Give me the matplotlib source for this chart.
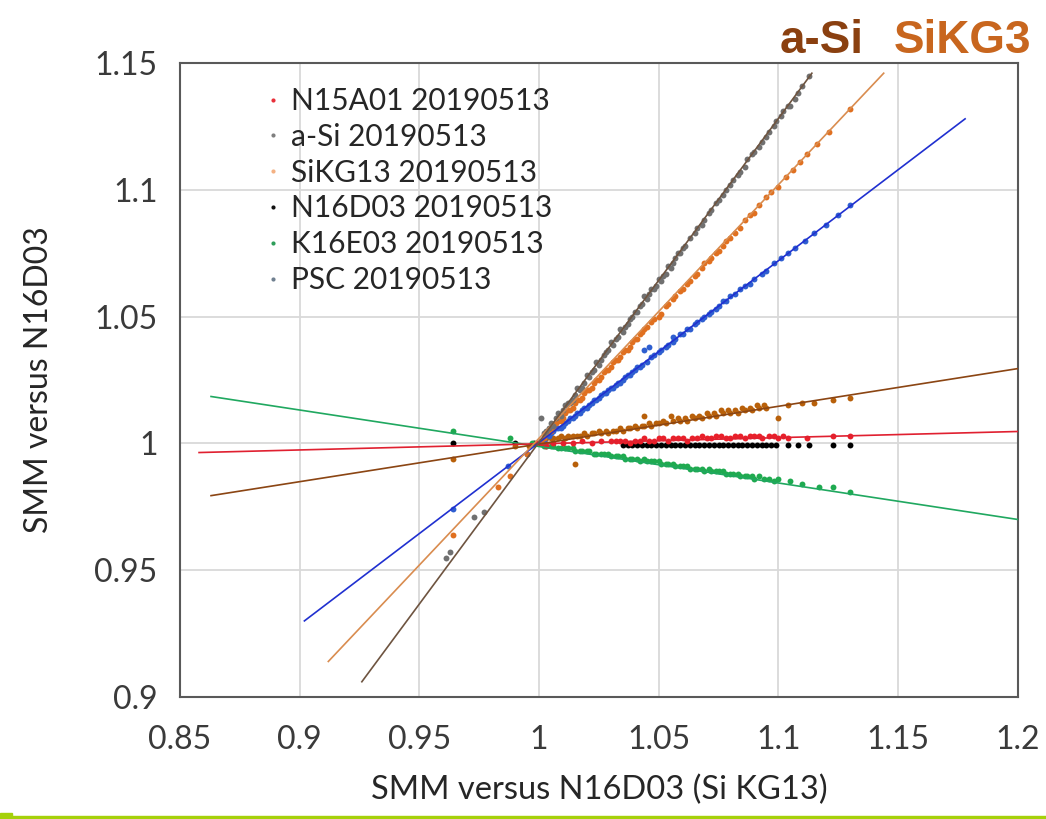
"""SMM ratio comparison versus N16D03, 2019-05-13 measurements."""

import matplotlib
matplotlib.use("Agg")
import matplotlib.pyplot as plt
from matplotlib.lines import Line2D
from matplotlib.patches import Rectangle

# --- data ----------------------------------------------------------------
gray_x = [0.961, 0.963, 0.973, 0.977, 1.001, 1.002, 1.004, 1.006, 1.008, 1.010,
          1.012, 1.014, 1.016, 1.018, 1.020, 1.022, 1.024, 1.026, 1.028, 1.030,
          1.032, 1.034, 1.036, 1.038, 1.040, 1.042, 1.044, 1.046, 1.048, 1.050,
          1.052, 1.054, 1.056, 1.058, 1.060, 1.063, 1.066, 1.069, 1.072, 1.075,
          1.078, 1.081, 1.084, 1.087, 1.090, 1.093, 1.096, 1.099, 1.102, 1.105,
          1.108, 1.113,
          1.003, 1.005, 1.007, 1.009, 1.011, 1.013, 1.015, 1.017, 1.019, 1.021,
          1.023, 1.025, 1.027, 1.029, 1.031, 1.033, 1.035, 1.037, 1.039, 1.041,
          1.043, 1.045, 1.047, 1.049, 1.051, 1.053, 1.055, 1.057, 1.059, 1.061,
          1.065, 1.068, 1.071, 1.074, 1.077, 1.080, 1.083, 1.086, 1.089, 1.092,
          1.095, 1.098, 1.101, 1.104, 1.107, 1.110]
gray_y = [0.955, 0.957, 0.971, 0.973, 1.010, 1.004, 1.006, 1.007, 1.012, 1.013,
          1.016, 1.017, 1.022, 1.022, 1.027, 1.028, 1.032, 1.033, 1.036, 1.040,
          1.041, 1.045, 1.046, 1.049, 1.052, 1.054, 1.058, 1.059, 1.061, 1.065,
          1.066, 1.070, 1.071, 1.075, 1.077, 1.081, 1.085, 1.088, 1.092, 1.096,
          1.100, 1.104, 1.107, 1.112, 1.115, 1.119, 1.123, 1.127, 1.131, 1.133,
          1.138, 1.145,
          1.005, 1.008, 1.010, 1.011, 1.015, 1.016, 1.019, 1.021, 1.024, 1.026,
          1.029, 1.031, 1.035, 1.037, 1.039, 1.042, 1.044, 1.047, 1.050, 1.052,
          1.055, 1.057, 1.061, 1.062, 1.064, 1.067, 1.069, 1.073, 1.075, 1.078,
          1.083, 1.086, 1.091, 1.095, 1.098, 1.102, 1.106, 1.109, 1.114, 1.117,
          1.121, 1.125, 1.129, 1.133, 1.136, 1.141]

orange_x = [0.964, 0.983, 0.988, 0.995, 1.001, 1.003, 1.005, 1.007, 1.009, 1.011,
            1.013, 1.015, 1.017, 1.019, 1.021, 1.023, 1.025, 1.027, 1.029, 1.031,
            1.033, 1.035, 1.037, 1.039, 1.041, 1.043, 1.045, 1.048, 1.051, 1.054,
            1.057, 1.060, 1.063, 1.066, 1.069, 1.072, 1.075, 1.078, 1.082, 1.086,
            1.090, 1.095, 1.100, 1.106, 1.112, 1.121, 1.130,
            1.002, 1.004, 1.006, 1.008, 1.010, 1.012, 1.014, 1.016, 1.018, 1.020,
            1.022, 1.024, 1.026, 1.028, 1.030, 1.032, 1.034, 1.036, 1.038, 1.040,
            1.042, 1.044, 1.047, 1.050, 1.053, 1.056, 1.059, 1.062, 1.065, 1.068,
            1.071, 1.074, 1.077, 1.080, 1.084, 1.088, 1.092, 1.097, 1.103, 1.109,
            1.116]
orange_y = [0.964, 0.983, 0.987, 0.996, 1.001, 1.004, 1.005, 1.008, 1.009, 1.012,
            1.013, 1.016, 1.017, 1.020, 1.021, 1.024, 1.025, 1.028, 1.029, 1.032,
            1.033, 1.036, 1.037, 1.040, 1.041, 1.044, 1.046, 1.049, 1.051, 1.055,
            1.058, 1.061, 1.064, 1.067, 1.071, 1.073, 1.076, 1.080, 1.083, 1.088,
            1.091, 1.097, 1.101, 1.108, 1.114, 1.123, 1.132,
            1.002, 1.005, 1.006, 1.009, 1.010, 1.013, 1.014, 1.017, 1.018, 1.021,
            1.022, 1.025, 1.026, 1.029, 1.030, 1.033, 1.034, 1.037, 1.038, 1.041,
            1.043, 1.045, 1.048, 1.050, 1.054, 1.057, 1.060, 1.063, 1.066, 1.069,
            1.072, 1.075, 1.078, 1.081, 1.085, 1.090, 1.094, 1.099, 1.105, 1.111,
            1.118]

blue_x = [0.964, 0.987, 0.995, 1.001, 1.003, 1.005, 1.007, 1.009, 1.011, 1.013,
          1.015, 1.017, 1.019, 1.021, 1.023, 1.025, 1.027, 1.029, 1.031, 1.033,
          1.035, 1.037, 1.039, 1.041, 1.043, 1.044, 1.045, 1.046, 1.047, 1.050,
          1.053, 1.056, 1.056, 1.059, 1.062, 1.065, 1.068, 1.071, 1.074, 1.077,
          1.080, 1.084, 1.088, 1.093, 1.098, 1.104, 1.111, 1.120, 1.130,
          1.002, 1.004, 1.006, 1.008, 1.010, 1.012, 1.014, 1.016, 1.018, 1.020,
          1.022, 1.024, 1.026, 1.028, 1.030, 1.032, 1.034, 1.036, 1.038, 1.040,
          1.042, 1.048, 1.051, 1.054, 1.057, 1.060, 1.063, 1.066, 1.069, 1.072,
          1.075, 1.078, 1.082, 1.086, 1.090, 1.095, 1.101, 1.107, 1.115, 1.125]
blue_y = [0.974, 0.991, 0.996, 1.001, 1.003, 1.004, 1.006, 1.006, 1.008, 1.010,
          1.011, 1.012, 1.014, 1.015, 1.017, 1.018, 1.020, 1.021, 1.022, 1.024,
          1.025, 1.027, 1.028, 1.030, 1.031, 1.037, 1.032, 1.038, 1.034, 1.036,
          1.038, 1.040, 1.042, 1.043, 1.045, 1.047, 1.049, 1.051, 1.053, 1.056,
          1.058, 1.061, 1.063, 1.067, 1.071, 1.075, 1.080, 1.086, 1.094,
          1.001, 1.003, 1.005, 1.006, 1.007, 1.009, 1.010, 1.012, 1.013, 1.014,
          1.016, 1.017, 1.019, 1.020, 1.022, 1.023, 1.024, 1.026, 1.027, 1.029,
          1.030, 1.035, 1.037, 1.039, 1.041, 1.043, 1.045, 1.048, 1.050, 1.052,
          1.054, 1.056, 1.059, 1.062, 1.065, 1.068, 1.073, 1.077, 1.083, 1.090]

brown_x = [0.964, 0.990, 0.996, 1.002, 1.005, 1.008, 1.011, 1.014, 1.015, 1.017,
           1.020, 1.023, 1.026, 1.029, 1.032, 1.035, 1.038, 1.041, 1.044, 1.044,
           1.047, 1.050, 1.053, 1.055, 1.056, 1.059, 1.062, 1.065, 1.068, 1.071,
           1.074, 1.077, 1.080, 1.083, 1.086, 1.089, 1.092, 1.095, 1.100, 1.104,
           1.110, 1.115, 1.123, 1.130,
           1.003, 1.006, 1.009, 1.012, 1.016, 1.019, 1.022, 1.025, 1.028, 1.031,
           1.034, 1.037, 1.040, 1.043, 1.046, 1.049, 1.052, 1.058, 1.061, 1.064,
           1.067, 1.070, 1.073, 1.076, 1.079, 1.082, 1.085, 1.088, 1.091, 1.094]
brown_y = [0.994, 0.999, 0.999, 1.001, 1.002, 1.002, 1.002, 1.003, 0.992, 1.003,
           1.003, 1.004, 1.004, 1.004, 1.005, 1.005, 1.006, 1.006, 1.007, 1.011,
           1.007, 1.008, 1.008, 1.011, 1.009, 1.009, 1.009, 1.010, 1.010, 1.011,
           1.011, 1.012, 1.012, 1.012, 1.013, 1.013, 1.014, 1.014, 1.010, 1.015,
           1.016, 1.016, 1.017, 1.018,
           1.002, 1.002, 1.003, 1.003, 1.003, 1.004, 1.004, 1.005, 1.005, 1.005,
           1.006, 1.006, 1.007, 1.007, 1.008, 1.008, 1.009, 1.010, 1.010, 1.011,
           1.011, 1.012, 1.012, 1.013, 1.013, 1.013, 1.014, 1.014, 1.015, 1.015]

red_x = [0.999, 1.001, 1.003, 1.006, 1.010, 1.014, 1.018, 1.022, 1.026, 1.030,
         1.034, 1.038, 1.042, 1.046, 1.050, 1.054, 1.058, 1.062, 1.066, 1.070,
         1.074, 1.078, 1.082, 1.086, 1.090, 1.093, 1.096, 1.100, 1.104, 1.112,
         1.123, 1.130,
         1.032, 1.036, 1.040, 1.044, 1.048, 1.052, 1.056, 1.060, 1.064, 1.068,
         1.072, 1.076, 1.080, 1.084, 1.088, 1.092, 1.098, 1.102]
red_y = [1.000, 1.000, 0.999, 1.000, 1.000, 1.000, 1.001, 1.000, 1.001, 1.001,
         1.001, 1.000, 1.001, 1.001, 1.002, 1.001, 1.002, 1.001, 1.002, 1.002,
         1.003, 1.002, 1.003, 1.002, 1.003, 1.002, 1.003, 1.002, 1.002, 1.002,
         1.003, 1.003,
         1.001, 1.001, 1.001, 1.002, 1.001, 1.002, 1.002, 1.002, 1.002, 1.003,
         1.002, 1.003, 1.002, 1.003, 1.003, 1.003, 1.003, 1.003]

black_x = [0.964, 0.990, 0.998, 1.000, 1.035, 1.039, 1.043, 1.047, 1.051, 1.055,
           1.059, 1.063, 1.067, 1.071, 1.075, 1.079, 1.083, 1.087, 1.091, 1.095,
           1.099, 1.104, 1.108, 1.113, 1.123, 1.130,
           1.037, 1.041, 1.045, 1.049, 1.053, 1.057, 1.061, 1.065, 1.069, 1.073,
           1.077, 1.081, 1.085, 1.089, 1.093, 1.097]
black_y = [1.000, 1.000, 1.000, 1.000, 0.9995, 0.9995, 0.9995, 0.9995, 0.9995, 0.9995,
           0.9995, 0.9995, 0.9995, 0.9995, 0.9995, 0.9995, 0.9995, 0.9995, 0.9995, 0.9995,
           0.9995, 0.9995, 0.9995, 0.9995, 0.9995, 0.9995,
           0.9995, 0.9995, 0.9995, 0.9995, 0.9995, 0.9995, 0.9995, 0.9995, 0.9995, 0.9995,
           0.9995, 0.9995, 0.9995, 0.9995, 0.9995, 0.9995]

green_x = [0.964, 0.988, 0.997, 1.002, 1.005, 1.008, 1.011, 1.014, 1.017, 1.020,
           1.023, 1.026, 1.029, 1.032, 1.035, 1.038, 1.041, 1.044, 1.047, 1.050,
           1.053, 1.056, 1.059, 1.062, 1.065, 1.068, 1.071, 1.074, 1.077, 1.080,
           1.083, 1.086, 1.089, 1.092, 1.096, 1.100, 1.105, 1.110, 1.117, 1.123,
           1.130,
           1.003, 1.006, 1.009, 1.012, 1.015, 1.018, 1.021, 1.024, 1.027, 1.030,
           1.033, 1.036, 1.039, 1.042, 1.045, 1.048, 1.051, 1.054, 1.057, 1.060,
           1.063, 1.066, 1.069, 1.072, 1.075, 1.078, 1.081, 1.084, 1.087, 1.090,
           1.094, 1.098]
green_y = [1.005, 1.002, 1.000, 0.999, 0.999, 0.998, 0.998, 0.998, 0.997, 0.997,
           0.996, 0.996, 0.996, 0.995, 0.995, 0.994, 0.994, 0.994, 0.993, 0.993,
           0.992, 0.992, 0.991, 0.991, 0.990, 0.990, 0.990, 0.989, 0.989, 0.988,
           0.988, 0.987, 0.987, 0.987, 0.986, 0.986, 0.985, 0.984, 0.983, 0.983,
           0.981,
           0.999, 0.999, 0.998, 0.998, 0.997, 0.997, 0.997, 0.996, 0.996, 0.995,
           0.995, 0.994, 0.994, 0.993, 0.993, 0.993, 0.992, 0.992, 0.991, 0.991,
           0.990, 0.990, 0.989, 0.989, 0.989, 0.988, 0.988, 0.987, 0.987, 0.986,
           0.986, 0.985]

# trend line end points
gray_fit_x, gray_fit_y = [0.926, 1.114], [0.906, 1.146]
orange_fit_x, orange_fit_y = [0.912, 1.144], [0.914, 1.146]
blue_fit_x, blue_fit_y = [0.902, 1.178], [0.930, 1.128]
green_fit_x, green_fit_y = [0.863, 1.200], [1.0185, 0.970]
red_fit_x, red_fit_y = [0.858, 1.200], [0.9964, 1.0047]
brown_fit_x, brown_fit_y = [0.863, 1.200], [0.9794, 1.0295]

legend_labels = ["N15A01 20190513", "a-Si 20190513", "SiKG13 20190513",
                 "N16D03 20190513", "K16E03 20190513", "PSC 20190513"]
legend_colors = ["#e8303a", "#7f7f7f", "#f4b183", "#111111", "#2e9e5a", "#708090"]

x_ticks = [0.85, 0.9, 0.95, 1.0, 1.05, 1.1, 1.15, 1.2]
x_ticklabels = ["0.85", "0.9", "0.95", "1", "1.05", "1.1", "1.15", "1.2"]
y_ticks = [0.9, 0.95, 1.0, 1.05, 1.1, 1.15]
y_ticklabels = ["0.9", "0.95", "1", "1.05", "1.1", "1.15"]


def main() -> None:
    plt.rcParams["font.family"] = ["Lato", "DejaVu Sans"]

    fig = plt.figure(figsize=(10.46, 8.19), dpi=100)
    ax = fig.add_axes([0.172, 0.149, 0.801, 0.774])

    ax.set_xlim(0.85, 1.2)
    ax.set_ylim(0.9, 1.15)
    ax.grid(color="#d9d9d9", linewidth=1.3)
    ax.set_axisbelow(True)

    dot = dict(s=18, linewidths=0, zorder=3)
    ax.scatter(black_x, black_y, color="#000000", **dot)
    ax.scatter(green_x, green_y, color="#1faa50", **dot)
    ax.scatter(red_x, red_y, color="#e8202a", **dot)
    ax.scatter(brown_x, brown_y, color="#b8600a", **dot)
    ax.scatter(blue_x, blue_y, color="#2f5fd0", **dot)
    ax.scatter(orange_x, orange_y, color="#e07020", **dot)
    ax.scatter(gray_x, gray_y, color="#707070", **dot)

    lw = 1.2
    ax.plot(green_fit_x, green_fit_y, color="#20a860", lw=lw, zorder=4)
    ax.plot(red_fit_x, red_fit_y, color="#e02030", lw=lw, zorder=4)
    ax.plot(brown_fit_x, brown_fit_y, color="#8b4513", lw=lw, zorder=4)
    ax.plot(blue_fit_x, blue_fit_y, color="#2030d0", lw=lw, zorder=4)
    ax.plot(orange_fit_x, orange_fit_y, color="#d98c4f", lw=lw, zorder=4)
    ax.plot(gray_fit_x, gray_fit_y, color="#6e5440", lw=lw, zorder=4)

    ax.set_xticks(x_ticks, x_ticklabels)
    ax.set_yticks(y_ticks, y_ticklabels)
    ax.tick_params(axis="both", length=0, labelsize=23, labelcolor="#3a3a3a")
    ax.tick_params(axis="x", pad=20)
    ax.tick_params(axis="y", pad=16)
    for side in ax.spines.values():
        side.set_color("#595959")
        side.set_linewidth(1.5)

    ax.set_xlabel("SMM versus N16D03 (Si KG13)", fontsize=23.5, color="#262626")
    ax.set_ylabel("SMM versus N16D03", fontsize=23, color="#262626")
    ax.xaxis.set_label_coords(0.5, -0.122)
    ax.yaxis.set_label_coords(-0.150, 0.5)

    handles = [Line2D([], [], ls="none", marker="o", ms=3, mew=0, color=c)
               for c in legend_colors]
    ax.legend(handles, legend_labels, loc="upper left",
              bbox_to_anchor=(0.100, 0.962), frameon=False, fontsize=21.5,
              borderpad=0, borderaxespad=0, handlelength=0.6,
              handletextpad=0.3, labelspacing=0.26, labelcolor="#262626")

    title_font = dict(fontsize=33, fontweight="bold", family="Liberation Sans")
    fig.text(0.7457, 0.935, "a-Si", color="#8a4010", **title_font)
    fig.text(0.854, 0.935, "SiKG3", color="#c8661e", **title_font)

    # yellow-green rule at the bottom edge
    fig.patches.append(Rectangle((0.0, 0.0), 0.0115, 0.0075, transform=fig.transFigure,
                                 color="#a5d10a", figure=fig))
    fig.patches.append(Rectangle((0.0, 0.0), 1.0, 0.0040, transform=fig.transFigure,
                                 color="#a5d10a", figure=fig))

    fig.savefig("out.png", dpi=100)
    plt.close(fig)


if __name__ == "__main__":
    main()
